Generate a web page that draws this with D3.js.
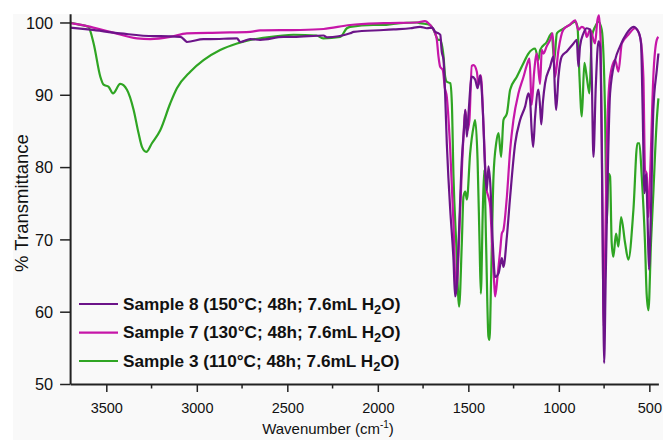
<!DOCTYPE html>
<html>
<head>
<meta charset="utf-8">
<script src="https://cdn.jsdelivr.net/npm/d3@7"></script>
<style>
  body { margin: 0; background: #fff; }
  text { font-family: "Liberation Sans", Arimo, Helvetica, sans-serif; }
</style>
</head>
<body>
<div id="chart"></div>
<script>
// FTIR spectra, [wavenumber cm-1, % transmittance]
const sample8 = [
  [3700,99.3],[3588,99.0],[3423,98.5],[3239,98.1],[3202,98.1],[3091,98.0],[3064,97.5],[3055,97.3],
  [2963,97.7],[2926,97.7],[2778,97.8],[2760,97.3],[2705,97.7],[2650,97.6],[2521,98.0],[2466,98.0],
  [2300,98.2],[2281,97.95],[2153,98.5],[2134,98.7],[1968,98.96],[1913,99.05],[1821,99.2],[1766,99.4],
  [1729,99.2],[1700,99.3],[1683,98.7],[1665,98.5],[1655,98.3],[1647,96.0],[1637,94.8],[1628,90],
  [1619,83.3],[1610,78.5],[1600,74.1],[1582,67.2],[1573,62.1],[1566,63],[1554,69.5],[1536,81.0],
  [1523,85.6],[1517,87.9],[1508,84.2],[1499,87.4],[1481,92.5],[1462,92.1],[1449,90.9],[1435,92.7],
  [1420,87.9],[1407,79.6],[1398,76.8],[1389,80.1],[1379,77.8],[1365,69.5],[1352,64.8],[1333,65.3],
  [1315,67.4],[1306,66.2],[1287,70.4],[1269,75.9],[1241,83.3],[1214,86.5],[1186,88.4],[1168,90.2],
  [1159,89.3],[1150,85],[1142,82.8],[1131,87.0],[1113,90.7],[1104,88.5],[1097,85.9],[1088,89],
  [1076,91.6],[1048,93.9],[1030,95.3],[1021,90.2],[1015,87.9],[1002,92.5],[984,95.3],[956,96.0],
  [919,97.1],[901,97.6],[892,93.9],[883,96.7],[864,98.5],[846,99.2],[827,99.0],[818,92.5],
  [809,81.4],[796,91.1],[781,97.4],[772,96.7],[763,83.3],[754,60.2],[750,52.9],[741,64.8],
  [730,78.7],[717,90.2],[689,94.8],[662,96.7],[625,98.5],[588,99.4],[560,98.7],[546,97.1],
  [537,87.9],[527,76.4],[518,79.1],[511,74.1],[502,65.8],[491,74.1],[478,87.9],[459,93.4],[450,95.7]
];
const sample7 = [
  [3700,99.9],[3607,99.5],[3478,98.7],[3330,97.8],[3257,97.7],[3147,98.0],[3055,98.5],[2871,98.6],
  [2705,98.7],[2650,98.9],[2429,98.96],[2300,99.1],[2153,99.65],[1968,99.9],[1784,100.0],[1740,100.2],
  [1711,99.65],[1683,98.5],[1674,97.6],[1665,95.3],[1656,93.9],[1641,93.4],[1630,91],[1619,89.7],
  [1600,82.4],[1582,72.2],[1569,63.0],[1562,64],[1545,74.1],[1527,84.2],[1517,87.9],[1505,85.1],
  [1494,86.5],[1481,94.0],[1471,94.1],[1453,93.2],[1444,91.4],[1431,92.7],[1416,85.6],[1400,77],
  [1389,75.9],[1379,74.5],[1370,70],[1357,63.9],[1352,62.1],[1339,64.8],[1324,68.5],[1315,70.8],
  [1306,71.3],[1287,75.9],[1269,82.4],[1251,86.5],[1223,90.2],[1195,92.5],[1177,94.1],[1162,95.0],
  [1150,88.6],[1137,93.0],[1122,95.7],[1104,91.5],[1094,96.2],[1085,95.7],[1067,96.7],[1048,97.6],
  [1034,98.5],[1021,92.5],[1002,96.2],[975,99.0],[938,99.7],[910,100.3],[892,99.0],[873,99.4],
  [855,99.0],[846,98.0],[827,99.0],[800,97.1],[787,100.3],[778,101.0],[769,97.1],[759,74.1],
  [752,58],[746,65],[735,83.3],[717,92.5],[689,94.8],[671,93.2],[652,97.1],[616,98.3],
  [579,99.2],[551,98.0],[533,92.5],[524,79.6],[515,79.1],[505,73.1],[496,78.7],[478,92.5],
  [459,97.6],[450,98]
];
const sample3 = [
  [3700,100],[3650,99.7],[3600,99.4],[3570,97.1],[3533,92.5],[3515,91.4],[3487,91.1],[3463,90.2],
  [3423,91.5],[3386,90.7],[3349,87.9],[3322,84.7],[3303,82.8],[3279,82.1],[3248,83.3],[3202,85.1],
  [3147,88.8],[3110,90.9],[3036,93.2],[2963,94.8],[2871,96.2],[2778,97.1],[2705,97.6],[2650,97.8],
  [2466,98.3],[2340,98.2],[2302,97.8],[2208,98.0],[2171,99.2],[2153,99.4],[2025,99.65],[1968,99.65],
  [1915,99.8],[1784,100.0],[1766,99.9],[1711,99.65],[1692,98.96],[1665,97.6],[1656,97.6],[1637,95.3],
  [1628,92.5],[1619,91.8],[1600,91.6],[1591,88.8],[1582,78.7],[1567,69.5],[1551,60.7],[1536,69.5],
  [1527,75.9],[1517,76.6],[1508,75.5],[1490,81.9],[1471,85.6],[1462,86.5],[1449,81.0],[1438,69.5],
  [1431,62.5],[1420,74.1],[1412,79.6],[1402,69.5],[1389,56.6],[1383,56.1],[1374,64.8],[1361,78.7],
  [1346,83.3],[1333,84.7],[1319,81.4],[1306,86.5],[1287,87.4],[1269,90.7],[1232,92.5],[1195,94.4],
  [1168,95.7],[1131,96.4],[1113,94.8],[1103,96.2],[1067,97.3],[1039,98.5],[1026,94.6],[1011,98.5],
  [984,99.0],[938,99.7],[910,100.1],[897,99.4],[886,92.5],[873,87.0],[859,94.4],[846,92.5],
  [831,90.2],[818,98.0],[800,99.4],[781,100.1],[763,99.0],[745,87.9],[735,72.2],[726,79.1],
  [717,78.7],[708,69.5],[699,67.6],[684,70.8],[671,69.0],[656,73.1],[634,69.5],[616,67.2],
  [588,74.1],[566,83.3],[555,83.3],[542,78.7],[524,69.5],[515,62.5],[505,60.2],[491,69.5],
  [478,76.4],[459,86.5],[450,89.5]
];

const seriesNames = ["Sample 8", "Sample 7", "Sample 3"];
const seriesTemps = ["150", "130", "110"];
const seriesColors = ["#6c1489", "#c616a8", "#2fa523"];
const seriesData = [sample8, sample7, sample3];

const xTicks = [3500, 3000, 2500, 2000, 1500, 1000, 500];
const xMinor = [3250, 2750, 2250, 1750, 1250, 750];
const yTicks = [50, 60, 70, 80, 90, 100];

const width = 666, height = 440;

const svg = d3.select("#chart").append("svg")
  .attr("width", width)
  .attr("height", height);

svg.append("rect")
  .attr("x", 13).attr("y", 14)
  .attr("width", 650).attr("height", height - 14)
  .attr("fill", "#f9f9f9");

const x = d3.scaleLinear().domain([3700, 450]).range([70.1, 658.4]);
const y = d3.scaleLinear().domain([50, 101.2]).range([384, 13.8]);

const line = d3.line()
  .x(d => x(d[0]))
  .y(d => y(d[1]))
  .curve(d3.curveMonotoneX);

// draw green first, purple on top
[2, 1, 0].forEach(i => {
  svg.append("path")
    .datum(seriesData[i])
    .attr("fill", "none")
    .attr("stroke", seriesColors[i])
    .attr("stroke-width", 2.2)
    .attr("stroke-linejoin", "round")
    .attr("d", line);
});

// x axis
const xAxis = svg.append("g")
  .attr("transform", `translate(0,384)`)
  .call(d3.axisBottom(x).tickValues(xTicks).tickFormat(d3.format("d")).tickSize(8).tickSizeOuter(0));
xAxis.select(".domain").attr("stroke", "#222").attr("stroke-width", 2);
xAxis.selectAll(".tick line").attr("stroke", "#222").attr("stroke-width", 1.5);
xAxis.selectAll(".tick text")
  .attr("y", 29).attr("dy", 0)
  .attr("font-family", "'Liberation Sans', Arimo, sans-serif")
  .attr("font-size", 14.5).attr("fill", "#111");

svg.append("g").selectAll("line")
  .data(xMinor)
  .enter().append("line")
  .attr("x1", d => x(d)).attr("x2", d => x(d))
  .attr("y1", 384).attr("y2", 388.5)
  .attr("stroke", "#222").attr("stroke-width", 1.5);

// y axis
const yAxis = svg.append("g")
  .attr("transform", `translate(70.1,0)`)
  .call(d3.axisLeft(y).tickValues(yTicks).tickSize(10).tickSizeOuter(0));
yAxis.select(".domain").attr("stroke", "#222").attr("stroke-width", 2);
yAxis.selectAll(".tick line").attr("stroke", "#222").attr("stroke-width", 1.5);
yAxis.selectAll(".tick text")
  .attr("x", -17).attr("dy", "0.36em")
  .attr("font-family", "'Liberation Sans', Arimo, sans-serif")
  .attr("font-size", 16.3).attr("fill", "#111");

// axis titles
const xt = svg.append("text")
  .attr("transform", `translate(328,434)`)
  .attr("text-anchor", "middle")
  .attr("font-size", 15)
  .attr("fill", "#111");
xt.append("tspan").text("Wavenumber (cm");
xt.append("tspan").attr("font-size", 10).attr("dy", -6).text("-1");
xt.append("tspan").attr("dy", 6).text(")");

svg.append("text")
  .attr("transform", `translate(28,203) rotate(-90)`)
  .attr("text-anchor", "middle")
  .attr("font-size", 18.5)
  .attr("fill", "#111")
  .text("% Transmittance");

// legend
const legendY = [304, 332.7, 361];
seriesNames.forEach((name, i) => {
  const g = svg.append("g");
  g.append("line")
    .attr("x1", 79).attr("x2", 118)
    .attr("y1", legendY[i]).attr("y2", legendY[i])
    .attr("stroke", seriesColors[i])
    .attr("stroke-width", 2.2);
  const t = g.append("text")
    .attr("x", 123)
    .attr("y", legendY[i] + 5.5)
    .attr("font-size", 17.2)
    .attr("font-weight", "bold")
    .attr("fill", "#111");
  t.append("tspan").text(`${name} (${seriesTemps[i]}°C; 48h; 7.6mL H`);
  t.append("tspan").attr("font-size", 13).attr("dy", 4).text("2");
  t.append("tspan").attr("dy", -4).text("O)");
});
</script>
</body>
</html>
